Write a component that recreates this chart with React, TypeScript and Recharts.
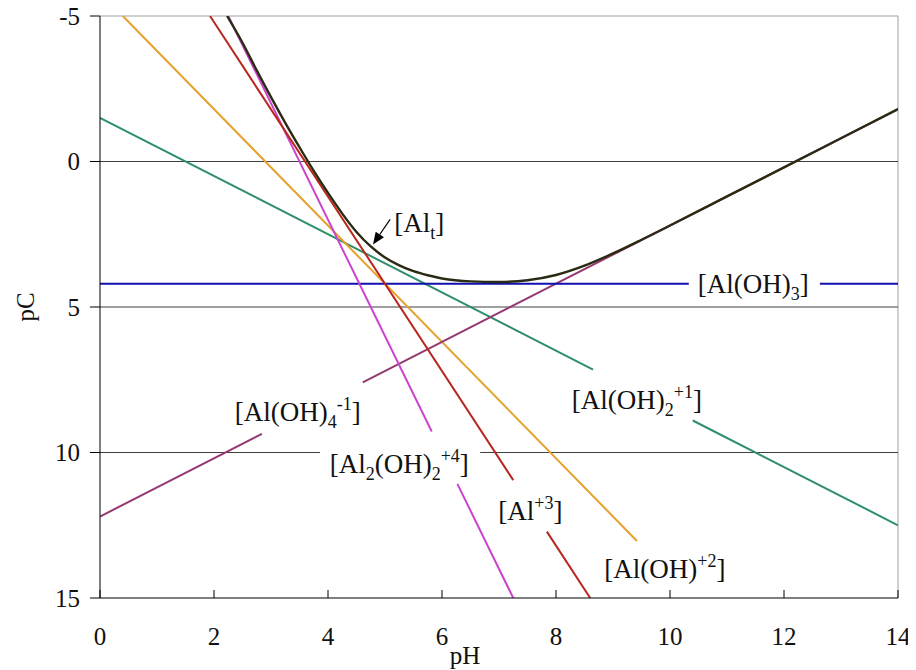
import { ComposedChart, Line, XAxis, YAxis, ReferenceLine, ReferenceDot } from "recharts";

const phTicks = [0, 2, 4, 6, 8, 10, 12, 14];
const pcTicks = [-5, 0, 5, 10, 15];

// each species: pH points and pC values, null = break left for the label
const al3PH = [1.93, 7.25, 7.25, 7.84, 8.6];
const al3PC = [-5, 10.95, null, 12.72, 15];

const alOHPH = [0.4, 9.42];
const alOHPC = [-5, 13.04];

const alOH2PH = [0, 8.65, 8.65, 10.4, 14];
const alOH2PC = [-1.5, 7.15, null, 8.9, 12.5];

const alOH3PH = [0, 10.33, 10.33, 12.63, 14];
const alOH3PC = [4.2, 4.2, null, 4.2, 4.2];

const alOH4PH = [0, 2.84, 2.84, 4.61, 14];
const alOH4PC = [12.2, 9.36, null, 7.59, -1.8];

const al2PH = [2.25, 5.82, 5.82, 6.27, 7.25];
const al2PC = [-5, 9.28, null, 11.08, 15];

const totalPH = [2.23, 2.5, 2.75, 3, 3.25, 3.5, 3.75, 4, 4.25, 4.5, 4.75, 5, 5.25, 5.5, 5.75, 6, 6.5, 7, 7.5, 8, 8.5, 9, 9.5, 10, 11, 12, 13, 14];
const totalPC = [-5, -4.08, -3.13, -2.21, -1.33, -0.49, 0.32, 1.08, 1.79, 2.42, 2.92, 3.3, 3.57, 3.77, 3.91, 4.02, 4.12, 4.14, 4.08, 3.9, 3.58, 3.16, 2.69, 2.2, 1.2, 0.2, -0.8, -1.8];

const toPoints = (xs: number[], ys: (number | null)[]) => xs.map((x, i) => ({ x, y: ys[i] }));

const txt = { fontFamily: "'Liberation Serif', 'Times New Roman', serif" };

type Part = { t: string; s?: "sub" | "sup" };

function Formula({ cx, cy, parts }: { cx: number; cy: number; parts: Part[] }) {
  let shift = 0;
  const spans = parts.map((p, i) => {
    const target = p.s === "sub" ? 7 : p.s === "sup" ? -11 : 0;
    const dy = target - shift;
    shift = target;
    return (
      <tspan key={i} dy={dy} fontSize={p.s ? 18 : 27}>
        {p.t}
      </tspan>
    );
  });
  return (
    <text x={cx} y={cy + 9} textAnchor="middle" style={txt} fill="#111">
      {spans}
    </text>
  );
}

const labels: { x: number; y: number; parts: Part[] }[] = [
  { x: 5.6, y: 2.13, parts: [{ t: "[Al" }, { t: "t", s: "sub" }, { t: "]" }] },
  { x: 11.46, y: 4.2, parts: [{ t: "[Al(OH)" }, { t: "3", s: "sub" }, { t: "]" }] },
  { x: 9.42, y: 8.2, parts: [{ t: "[Al(OH)" }, { t: "2", s: "sub" }, { t: "+1", s: "sup" }, { t: "]" }] },
  { x: 3.47, y: 8.6, parts: [{ t: "[Al(OH)" }, { t: "4", s: "sub" }, { t: "-1", s: "sup" }, { t: "]" }] },
  { x: 5.25, y: 10.4, parts: [{ t: "[Al" }, { t: "2", s: "sub" }, { t: "(OH)" }, { t: "2", s: "sub" }, { t: "+4", s: "sup" }, { t: "]" }] },
  { x: 7.55, y: 12.0, parts: [{ t: "[Al" }, { t: "+3", s: "sup" }, { t: "]" }] },
  { x: 9.91, y: 14.0, parts: [{ t: "[Al(OH)" }, { t: "+2", s: "sup" }, { t: "]" }] },
];

const series = [
  { key: "green", xs: alOH2PH, ys: alOH2PC, color: "#2f8f6a" },
  { key: "orange", xs: alOHPH, ys: alOHPC, color: "#e5a12b" },
  { key: "purple", xs: alOH4PH, ys: alOH4PC, color: "#953a6e" },
  { key: "blue", xs: alOH3PH, ys: alOH3PC, color: "#1010b0" },
  { key: "magenta", xs: al2PH, ys: al2PC, color: "#cc44cc" },
  { key: "red", xs: al3PH, ys: al3PC, color: "#b8281e" },
  { key: "total", xs: totalPH, ys: totalPC, color: "#2b2b14" },
];

function Arrow(p: any) {
  const { x1, y1, x2, y2 } = p;
  const dx = x2 - x1;
  const dy = y2 - y1;
  const len = Math.sqrt(dx * dx + dy * dy);
  const ux = dx / len;
  const uy = dy / len;
  const hl = 12;
  const hw = 5;
  const bx = x2 - ux * hl;
  const by = y2 - uy * hl;
  return (
    <g>
      <line x1={x1} y1={y1} x2={bx} y2={by} stroke="#000" strokeWidth={1.2} />
      <polygon
        points={`${x2},${y2} ${bx - uy * hw},${by + ux * hw} ${bx + uy * hw},${by - ux * hw}`}
        fill="#000"
      />
    </g>
  );
}

export default function App() {
  return (
    <div style={{ marginTop: -8 }}>
      <ComposedChart width={908} height={670} margin={{ top: 16, right: 18, left: 0, bottom: 0 }}>
        <XAxis
          dataKey="x"
          type="number"
          domain={[0, 14]}
          ticks={phTicks}
          interval={0}
          allowDataOverflow
          height={72}
          stroke="#000"
          tickSize={0}
          tickMargin={0}
          tick={(p: any) => (
            <g>
              <line x1={p.x} x2={p.x} y1={p.y} y2={p.y - 8} stroke="#000" />
              <text x={p.x} y={p.y + 47} textAnchor="middle" style={txt} fontSize={25} fill="#111">
                {p.payload.value}
              </text>
            </g>
          )}
          label={{
            content: () => (
              <text x={457} y={664} textAnchor="middle" style={txt} fontSize={25} fill="#111">
                pH
              </text>
            ),
          }}
        />
        <YAxis
          type="number"
          reversed
          domain={[-5, 15]}
          ticks={pcTicks}
          interval={0}
          allowDataOverflow
          width={92}
          stroke="#000"
          tickSize={0}
          tickMargin={0}
          tick={(p: any) => (
            <g>
              <line x1={p.x - 10} x2={p.x} y1={p.y} y2={p.y} stroke="#000" />
              <text x={p.x - 20} y={p.y} dy="0.35em" textAnchor="end" style={txt} fontSize={25} fill="#111">
                {p.payload.value}
              </text>
            </g>
          )}
          label={{
            content: () => (
              <text x={17} y={307} dy="0.35em" textAnchor="middle" transform="rotate(-90 17 307)" style={txt} fontSize={25} fill="#111">
                pC
              </text>
            ),
          }}
        />
        <ReferenceLine y={-5} stroke="#a0a0a0" strokeWidth={1} />
        <ReferenceLine x={14} stroke="#a0a0a0" strokeWidth={1} />
        <ReferenceLine y={0} stroke="#404040" strokeWidth={1} />
        <ReferenceLine y={5} stroke="#404040" strokeWidth={1} />
        <ReferenceLine segment={[{ x: 0, y: 10 }, { x: 3.86, y: 10 }]} stroke="#404040" strokeWidth={1} />
        <ReferenceLine segment={[{ x: 6.67, y: 10 }, { x: 14, y: 10 }]} stroke="#404040" strokeWidth={1} />
        {series.map((s) => (
          <Line
            key={s.key}
            data={toPoints(s.xs, s.ys)}
            dataKey="y"
            type={s.key === "total" ? "monotone" : "linear"}
            stroke={s.color}
            strokeWidth={s.key === "total" ? 2.4 : 2}
            dot={false}
            activeDot={false}
            isAnimationActive={false}
          />
        ))}
        <ReferenceLine segment={[{ x: 5.09, y: 1.99 }, { x: 4.79, y: 2.85 }]} shape={Arrow} />
        {labels.map((l, i) => (
          <ReferenceDot
            key={i}
            x={l.x}
            y={l.y}
            r={0}
            ifOverflow="visible"
            shape={(p: any) => <Formula cx={p.cx} cy={p.cy} parts={l.parts} />}
          />
        ))}
      </ComposedChart>
    </div>
  );
}
